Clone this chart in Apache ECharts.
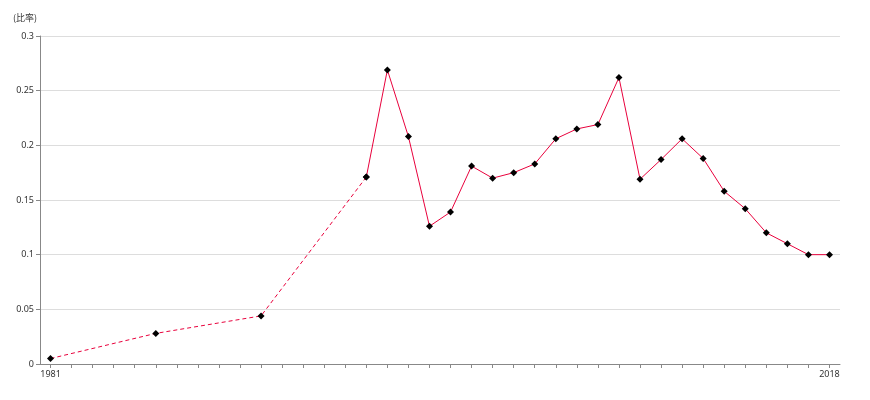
<!DOCTYPE html>
<html><head><meta charset="utf-8">
<script src="https://cdn.jsdelivr.net/npm/echarts@6/dist/echarts.min.js"></script>
<style>html,body{margin:0;padding:0;background:#fff}#c{width:870px;height:400px}</style>
</head><body><div id="c"></div>
<script>
var years = [];
for (var y = 1981; y <= 2018; y++) years.push(String(y));
var obsYears = ['1981','1986','1991','1996','1997','1998','1999','2000','2001','2002','2003','2004','2005','2006','2007','2008','2009','2010','2011','2012','2013','2014','2015','2016','2017','2018'];
var obsValues = [0.005,0.028,0.044,0.171,0.269,0.208,0.126,0.139,0.181,0.170,0.175,0.183,0.206,0.215,0.219,0.262,0.169,0.187,0.206,0.188,0.158,0.142,0.120,0.110,0.100,0.100];
var dashedUntil = '1996';
var yTicks = {min: 0, max: 0.3, interval: 0.05};

var full = years.map(function(yr){ var i = obsYears.indexOf(yr); return i >= 0 ? obsValues[i] : null; });
var solid = full.map(function(v, i){ return Number(years[i]) >= Number(dashedUntil) ? v : null; });
var dashed = full.map(function(v, i){ return Number(years[i]) <= Number(dashedUntil) ? v : null; });

var lineColor = '#e8003c';
var chart = echarts.init(document.getElementById('c'));
chart.setOption({
  animation: false,
  grid: {left: 40, right: 30, top: 36, bottom: 36},
  xAxis: {
    type: 'category', data: years, boundaryGap: true,
    axisLine: {lineStyle: {color: '#888'}},
    axisTick: {show: true, alignWithLabel: true, interval: 0, length: 4, lineStyle: {color: '#888'}},
    axisLabel: {interval: function(i){ return i === 0 || i === years.length - 1; }, fontSize: 9, color: '#333', margin: 6, fontFamily: 'Noto Sans'}
  },
  yAxis: {
    type: 'value', min: yTicks.min, max: yTicks.max, interval: yTicks.interval,
    name: '(比率)', nameLocation: 'end', nameGap: 14,
    nameTextStyle: {fontSize: 9, color: '#333', align: 'center', padding: [0, 0, 0, -30], fontFamily: 'Noto Sans CJK JP'},
    axisLine: {show: true, lineStyle: {color: '#888'}},
    axisTick: {show: true, length: 4, lineStyle: {color: '#888'}},
    axisLabel: {fontSize: 9, color: '#333', margin: 6, fontFamily: 'Noto Sans'},
    splitLine: {lineStyle: {color: '#ddd'}}
  },
  series: [
    {type: 'line', data: dashed, connectNulls: true, symbol: 'diamond', symbolSize: 7,
     lineStyle: {color: lineColor, width: 1, type: [4, 3]}, itemStyle: {color: '#000'}},
    {type: 'line', data: solid, connectNulls: false, symbol: 'diamond', symbolSize: 7,
     lineStyle: {color: lineColor, width: 1}, itemStyle: {color: '#000'}, z: 3}
  ]
});
</script></body></html>
